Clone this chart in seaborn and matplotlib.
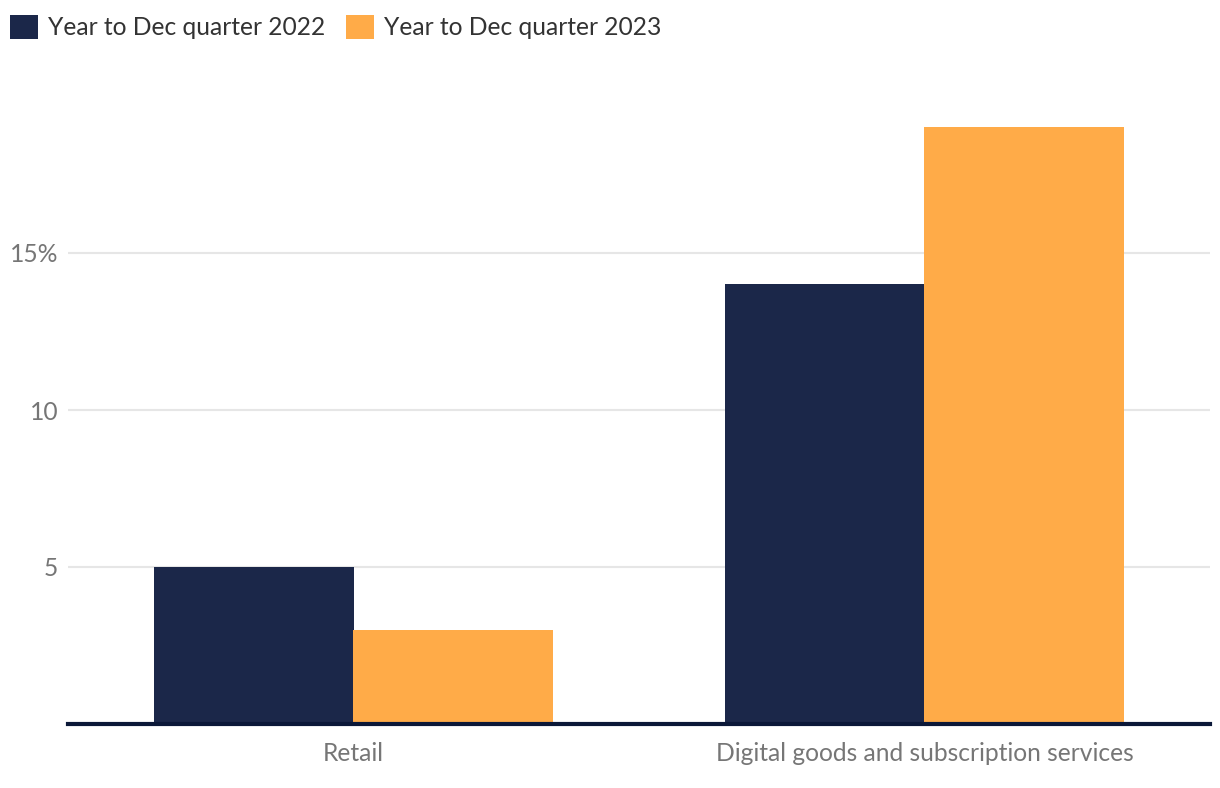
import pandas as pd
import seaborn as sns
import matplotlib.pyplot as plt
from matplotlib.patches import Patch

# Data
categories = ["Retail", "Digital goods and subscription services"]
series = ["Year to Dec quarter 2022", "Year to Dec quarter 2023"]
values_2022 = [5, 14]
values_2023 = [3, 19]
colors = ["#1b2749", "#ffab48"]

df = pd.DataFrame({
    "category": categories * 2,
    "period": [series[0]] * 2 + [series[1]] * 2,
    "value": values_2022 + values_2023,
})

sns.set_style("white")
plt.rcParams["font.family"] = ["Lato", "DejaVu Sans"]

fig = plt.figure(figsize=(12.2, 7.88), dpi=100)
ax = fig.add_axes([68 / 1220, 1 - 724 / 788, (1210 - 68) / 1220, (724 - 96) / 788])

sns.barplot(data=df, x="category", y="value", hue="period", palette=colors,
            width=0.7, gap=0, saturation=1, linewidth=0, ax=ax, legend=False)

ax.set_xlim(-0.5, 1.5)
ax.set_ylim(0, 20)
ax.set_yticks([5, 10, 15])
ax.set_yticklabels(["5", "10", "15%"])
ax.grid(axis="y", color="#e6e6e6", linewidth=1.5)
ax.set_axisbelow(True)
ax.set_xlabel("")
ax.set_ylabel("")
for s in ["top", "right", "left"]:
    ax.spines[s].set_visible(False)
ax.spines["bottom"].set_color("#0b1838")
ax.spines["bottom"].set_linewidth(3)
ax.tick_params(axis="both", length=0, labelsize=17.7, labelcolor="#767676")
ax.tick_params(axis="y", pad=7)
ax.tick_params(axis="x", pad=13)

handles = [Patch(facecolor=c, edgecolor="none") for c in colors]
fig.legend(handles, series, loc="upper left", bbox_to_anchor=(10 / 1220, 1 - 15 / 788),
           ncol=2, frameon=False, fontsize=17.7, labelcolor="#333333",
           handlelength=1.14, handleheight=1.14, handletextpad=0.4,
           columnspacing=0.84, borderaxespad=0, borderpad=0)

fig.savefig("out.png", dpi=100, facecolor="white")
